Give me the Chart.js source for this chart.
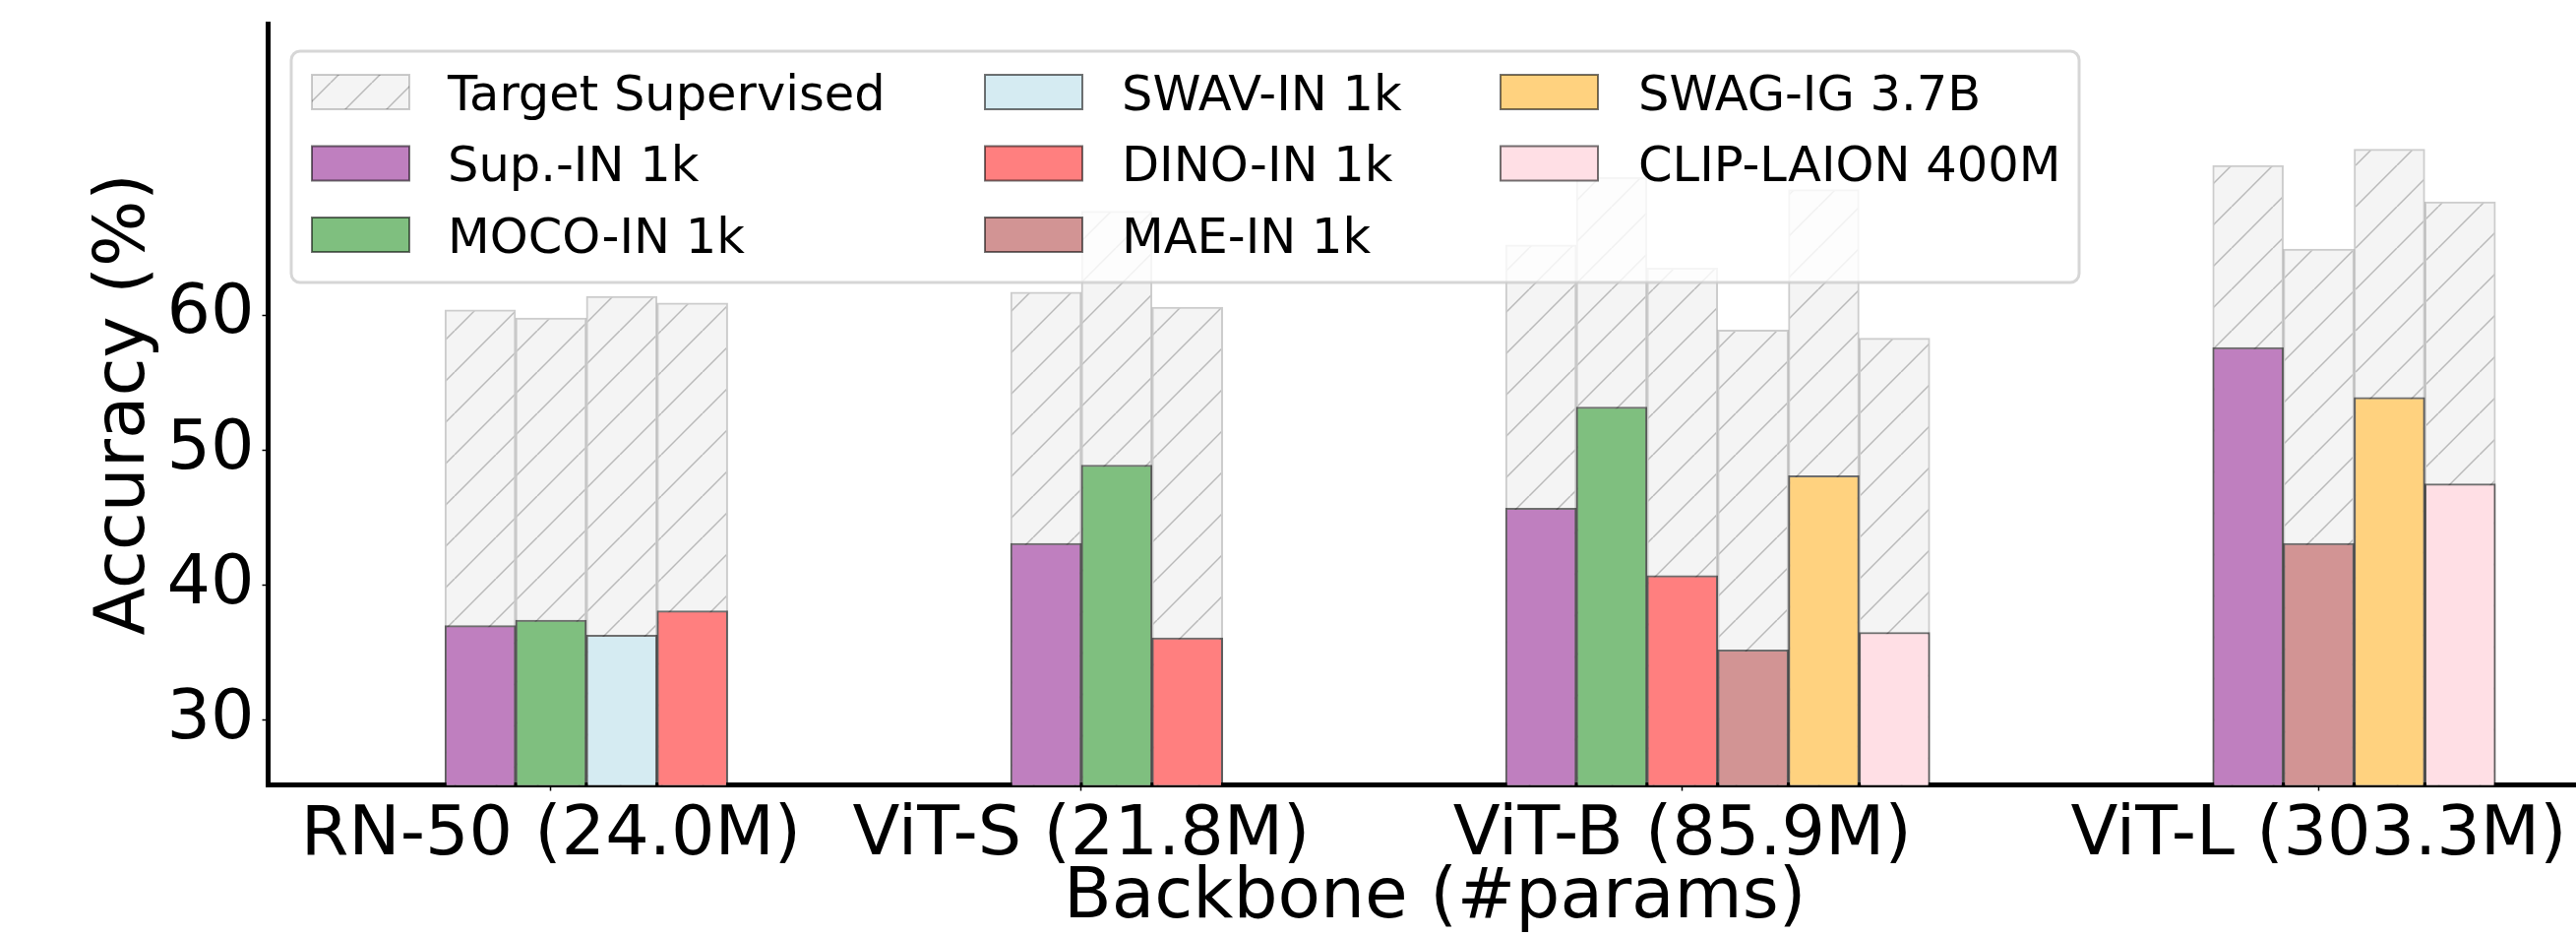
<!DOCTYPE html>
<html>
<head>
<meta charset="utf-8">
<script src="https://cdn.jsdelivr.net/npm/chart.js@4.4.0/dist/chart.umd.min.js"></script>
<style>
  html, body { margin: 0; padding: 0; background: #fff; overflow: hidden; }
  #wrap { width: 2618px; height: 951px; overflow: hidden; }
  canvas { display: block; }
</style>
</head>
<body>
<div id="wrap"><canvas id="accChart" width="2644" height="951"></canvas></div>
<script>
// Backbones on the x axis
const backbones = ["RN-50 (24.0M)", "ViT-S (21.8M)", "ViT-B (85.9M)", "ViT-L (303.3M)"];
const methods = ["Sup.-IN 1k", "MOCO-IN 1k", "SWAV-IN 1k", "DINO-IN 1k", "MAE-IN 1k", "SWAG-IG 3.7B", "CLIP-LAION 400M"];

// accuracy per backbone (null = not evaluated)
const supIN1k   = [37.0, 43.1, 45.7, 57.6];
const mocoIN1k  = [37.4, 48.9, 53.2, null];
const swavIN1k  = [36.3, null, null, null];
const dinoIN1k  = [38.1, 36.1, 40.7, null];
const maeIN1k   = [null, null, 35.2, 43.1];
const swagIG    = [null, null, 48.1, 53.9];
const clipLAION = [null, null, 36.5, 47.5];

// target supervised accuracy for the same bars
const supTarget  = [60.4, 61.7, 65.2, 71.1];
const mocoTarget = [59.8, 67.7, 70.2, null];
const swavTarget = [61.4, null, null, null];
const dinoTarget = [60.9, 60.6, 63.5, null];
const maeTarget  = [null, null, 58.9, 64.9];
const swagTarget = [null, null, 69.3, 72.3];
const clipTarget = [null, null, 58.3, 68.4];

const yTicks = [30, 40, 50, 60];

const methodValues  = [supIN1k, mocoIN1k, swavIN1k, dinoIN1k, maeIN1k, swagIG, clipLAION];
const methodTargets = [supTarget, mocoTarget, swavTarget, dinoTarget, maeTarget, swagTarget, clipTarget];
const methodColors  = ["#bf7fbf", "#7fbf7f", "#d5ebf2", "#ff7f7f", "#d29494", "#ffd27f", "#ffdfe5"];
const edgeColor = "rgba(0,0,0,0.55)";
const targetEdge = "rgba(0,0,0,0.2)";

// hatch pattern for the target bars
function makeHatch(ctx) {
  const s = 42;
  const c = document.createElement("canvas");
  c.width = s; c.height = s;
  const g = c.getContext("2d");
  g.fillStyle = "#f4f4f4";
  g.fillRect(0, 0, s, s);
  g.strokeStyle = "rgba(0,0,0,0.24)";
  g.lineWidth = 1.5;
  for (let k = -1; k <= 1; k++) {
    g.beginPath();
    g.moveTo(k * s, s);
    g.lineTo(k * s + s, 0);
    g.stroke();
  }
  return ctx.createPattern(c, "repeat");
}

// x layout in bar-width units: bars touch inside a group, 4 empty slots between groups
const GAP = 4;
const tickPos = [];
const barX = methods.map(() => backbones.map(() => null));
let pos = 0, prevN = 0;
backbones.forEach((b, i) => {
  const present = methods.map((m, k) => k).filter(k => methodValues[k][i] !== null);
  const n = present.length;
  if (i > 0) pos += (prevN + n) / 2 + GAP;
  tickPos.push(pos);
  present.forEach((k, j) => { barX[k][i] = pos + j - n / 2 + 1; });
  prevN = n;
});

const canvas = document.getElementById("accChart");
const ctx = canvas.getContext("2d");
const hatch = makeHatch(ctx);

const targetData = [];
methods.forEach((m, k) => {
  backbones.forEach((b, i) => {
    if (methodTargets[k][i] !== null) targetData.push({ x: barX[k][i], y: methodTargets[k][i] });
  });
});

const datasets = [{
  label: "Target Supervised",
  data: targetData,
  backgroundColor: hatch,
  borderColor: targetEdge,
  order: 1
}];
methods.forEach((m, k) => {
  const pts = [];
  backbones.forEach((b, i) => {
    if (methodValues[k][i] !== null) pts.push({ x: barX[k][i], y: methodValues[k][i] });
  });
  datasets.push({ label: m, data: pts, backgroundColor: methodColors[k], borderColor: edgeColor, order: 0 });
});
datasets.forEach(d => {
  d.grouped = false;
  d.barPercentage = 1;
  d.categoryPercentage = 1;
  d.borderWidth = 2;
  d.borderSkipped = false;
});

// legend drawn over the plot, 3 columns, column-major
const legendPlugin = {
  id: "boxLegend",
  afterDraw(chart) {
    const c = chart.ctx;
    const box = { left: 296, top: 52, right: 2113, bottom: 287, r: 9 };
    c.save();
    c.beginPath();
    c.roundRect(box.left, box.top, box.right - box.left, box.bottom - box.top, box.r);
    c.fillStyle = "rgba(255,255,255,0.8)";
    c.fill();
    c.lineWidth = 3;
    c.strokeStyle = "rgba(204,204,204,0.8)";
    c.stroke();

    const colSwatch = [317, 1001, 1525];
    const colText = [455, 1140, 1665];
    const rowMid = [93.5, 166, 238.5];
    const sw = 99, sh = 35;
    const labels = ["Target Supervised"].concat(methods);
    c.font = "49.5px 'DejaVu Sans'";
    c.textBaseline = "alphabetic";
    c.textAlign = "left";
    labels.forEach((lab, idx) => {
      const col = Math.floor(idx / 3), row = idx % 3;
      const x = colSwatch[col], y = rowMid[row] - sh / 2;
      c.fillStyle = idx === 0 ? hatch : methodColors[idx - 1];
      c.fillRect(x, y, sw, sh);
      c.lineWidth = 2;
      c.strokeStyle = idx === 0 ? targetEdge : edgeColor;
      c.strokeRect(x, y, sw, sh);
      c.fillStyle = "#000";
      c.fillText(lab, colText[col], rowMid[row] + 18);
    });
    c.restore();
  }
};

Chart.defaults.font.family = "'DejaVu Sans', sans-serif";
Chart.defaults.color = "#000";

new Chart(ctx, {
  type: "bar",
  data: { datasets: datasets },
  options: {
    responsive: false,
    animation: false,
    devicePixelRatio: 1,
    layout: { padding: { top: 24, left: 0, right: 0, bottom: 0 } },
    plugins: { legend: { display: false }, tooltip: { enabled: false } },
    scales: {
      x: {
        type: "linear",
        min: -4,
        max: 29,
        offset: false,
        z: 1,
        border: { display: true, color: "#000", width: 5 },
        grid: { offset: false, drawOnChartArea: false, drawTicks: true, tickLength: 6, tickColor: "#000", tickWidth: 1.5 },
        ticks: {
          font: { size: 70 },
          color: "#000",
          padding: 4,
          maxRotation: 0,
          autoSkip: false,
          callback: v => backbones[tickPos.indexOf(v)]
        },
        afterBuildTicks: s => { s.ticks = tickPos.map(v => ({ value: v })); },
        afterFit: s => { s.height = 153.5; s.paddingLeft = 0; s.paddingRight = 0; },
        title: { display: true, text: "Backbone (#params)", font: { size: 71, lineHeight: 1 }, color: "#000", padding: { top: 0, bottom: 2 } }
      },
      y: {
        min: 25.2,
        max: 81.6,
        z: 1,
        border: { display: true, color: "#000", width: 5 },
        grid: { drawOnChartArea: false, drawTicks: true, tickLength: 6, tickColor: "#000", tickWidth: 1.5 },
        ticks: { font: { size: 70 }, color: "#000", padding: 8 },
        afterBuildTicks: s => { s.ticks = yTicks.map(v => ({ value: v })); },
        afterFit: s => { s.width = 272.5; s.paddingTop = 0; s.paddingBottom = 0; },
        title: { display: true, text: "Accuracy (%)", font: { size: 71, lineHeight: 1 }, color: "#000", padding: { top: 92, bottom: 0 } }
      }
    }
  },
  plugins: [legendPlugin]
});
</script>
</body>
</html>
